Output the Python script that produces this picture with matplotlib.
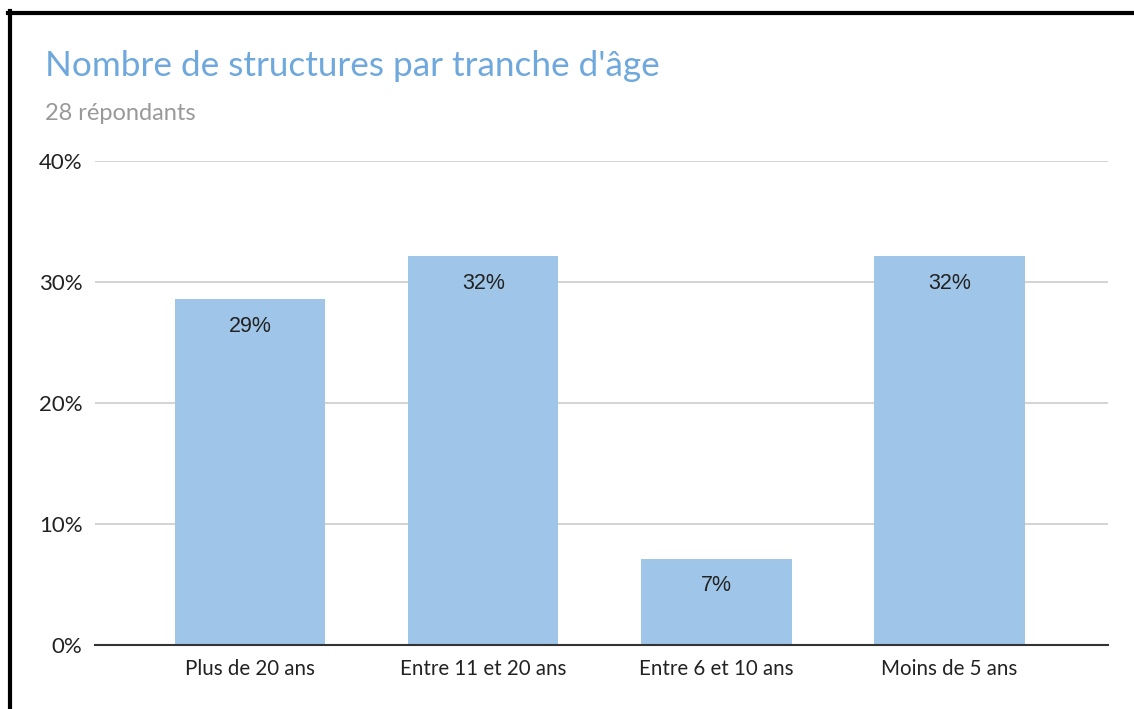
import matplotlib
matplotlib.use("Agg")
import matplotlib.pyplot as plt
from matplotlib.lines import Line2D
from matplotlib.ticker import FuncFormatter

categories = ["Plus de 20 ans", "Entre 11 et 20 ans", "Entre 6 et 10 ans", "Moins de 5 ans"]
counts = [8, 9, 2, 9]
respondents = 28
shares = [c / respondents for c in counts]
bar_labels = ["29%", "32%", "7%", "32%"]
yticks = [0, 0.1, 0.2, 0.3, 0.4]

barColor = "#9fc5e8"
titleColor = "#6fa8dc"
uiFont = ["Lato", "DejaVu Sans"]

fig = plt.figure(figsize=(11.34, 7.09), dpi=100)
W, H = 1134, 709
ax = fig.add_axes([95 / W, (H - 645) / H, (1108 - 95) / W, (645 - 161) / H])

x = list(range(len(categories)))
ax.bar(x, shares, width=0.645, color=barColor, zorder=2)
for xi, v, lab in zip(x, shares, bar_labels):
    ax.annotate(lab, (xi, v), xytext=(0, -12), textcoords="offset points",
                ha="center", va="top", fontsize=15.5, color="#222222",
                family=["Liberation Sans", "DejaVu Sans"], zorder=3)

ax.set_xlim(-0.665, 3.68)
ax.set_ylim(0, 0.4)
ax.set_yticks(yticks)
ax.yaxis.set_major_formatter(FuncFormatter(lambda v, p: f"{v * 100:.0f}%"))
ax.set_xticks(x)
ax.set_xticklabels(categories)
ax.grid(axis="y", color="#cccccc", linewidth=1.2, zorder=0)
ax.set_axisbelow(True)
for s in ["top", "right", "left"]:
    ax.spines[s].set_visible(False)
ax.spines["bottom"].set_color("#333333")
ax.spines["bottom"].set_linewidth(1.5)
ax.spines["bottom"].set_zorder(4)
ax.tick_params(axis="both", length=0, colors="#222222")
ax.tick_params(axis="y", pad=9, labelsize=16)
ax.tick_params(axis="x", pad=10, labelsize=14.8)
for lbl in ax.get_xticklabels() + ax.get_yticklabels():
    lbl.set_family(uiFont)

fig.text(45 / W, 1 - 66 / H, "Nombre de structures par tranche d'âge", fontsize=25.3,
         color=titleColor, family=uiFont, va="center", ha="left")
fig.text(45 / W, 1 - 113 / H, "28 répondants", fontsize=17,
         color="#999999", family=uiFont, va="center", ha="left")

# black frame on top and left edges
fig.add_artist(Line2D([8 / W, 1], [1 - 12.5 / H, 1 - 12.5 / H], color="black", linewidth=3, transform=fig.transFigure))
fig.add_artist(Line2D([9.5 / W, 9.5 / W], [0, 1 - 11 / H], color="black", linewidth=3, transform=fig.transFigure))

fig.savefig("out.png", dpi=100, facecolor="white")
